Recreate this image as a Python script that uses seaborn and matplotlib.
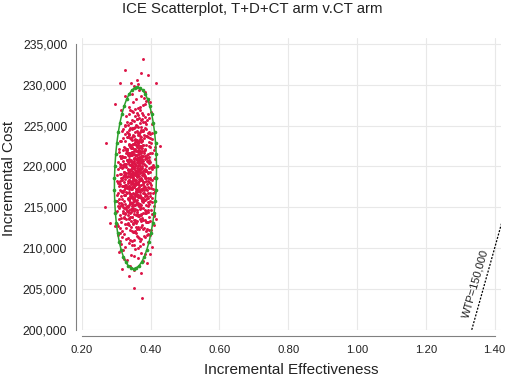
import numpy as np
import pandas as pd
import matplotlib
matplotlib.use("Agg")
import matplotlib.pyplot as plt
import seaborn as sns
from matplotlib.ticker import FuncFormatter

# incremental effectiveness (x) and incremental cost in thousands (y), read band by band
eff = [
    .376, .352,
    .338,
    .316, .352, .373,
    .331, .389, .362,
    .344, .321, .371, .355, .398,
    .403, .337, .362, .310, .351, .379, .345, .368,
    .328, .357, .384, .341, .306, .366, .349, .392, .318, .360, .373,
    .296, .347, .363, .331, .389, .354, .312, .376, .340, .358, .401, .325, .367, .343, .352, .381,
    .282, .416, .355, .338, .371, .322, .349, .384, .307, .362, .343, .396, .329, .358, .374, .351, .315, .366, .337, .389, .346,
    .335, .361, .378, .308, .352, .344, .392, .327, .368, .357, .319, .383, .340, .349, .404, .331, .364, .356, .298, .373, .346, .387, .323, .360, .338, .371,
    .268, .342, .366, .353, .317, .381, .329, .359, .372, .336, .395, .348, .310, .363, .355, .386, .324, .345, .369, .301, .351, .377, .333, .361, .340, .392, .357, .318, .374, .347, .365,
    .350, .327, .371, .358, .339, .384, .314, .362, .346, .397, .333, .368, .355, .321, .377, .343, .360, .305, .352, .389, .337, .365, .348, .374, .326, .357, .341, .380, .316, .363, .353, .335, .370, .344, .408, .359,
    .361, .338, .375, .349, .322, .366, .354, .390, .331, .358, .343, .382, .312, .369, .347, .356, .400, .335, .363, .351, .326, .373, .340, .359, .386, .318, .365, .345, .353, .378, .329, .362, .337, .394, .350, .367, .308, .357, .342,
    .344, .369, .355, .327, .381, .360, .336, .348, .392, .316, .364, .352, .340, .376, .357, .302, .371, .346, .333, .362, .388, .350, .324, .367, .341, .358, .379, .313, .354, .337, .397, .365, .347, .330, .373, .359, .343, .385, .320, .356,
    .363, .339, .377, .352, .325, .368, .357, .345, .391, .333, .360, .349, .383, .317, .371, .355, .341, .366, .398, .328, .358, .347, .374, .336, .362, .310, .353, .387, .343, .369, .350, .322, .380, .356, .334, .365, .346, .404, .359,
    .348, .372, .356, .331, .384, .361, .342, .367, .353, .395, .320, .364, .350, .338, .376, .358, .345, .389, .326, .369, .354, .335, .362, .381, .347, .314, .366, .352, .340, .374, .359, .329, .392, .357, .344, .370, .351,
    .360, .337, .378, .352, .324, .366, .345, .386, .356, .332, .371, .349, .363, .318, .381, .354, .341, .368, .396, .328, .359, .347, .374, .335, .362, .351, .390, .339, .365, .357, .312, .373,
    .270, .427, .355, .340, .376, .362, .331, .369, .349, .385, .358, .343, .371, .322, .364, .352, .394, .337, .367, .356, .346, .379, .329, .360, .351, .373, .342,
    .358, .334, .374, .350, .365, .341, .388, .355, .326, .369, .347, .361, .380, .338, .357, .372, .344, .363, .315, .353, .398, .366,
    .362, .339, .377, .354, .368, .345, .383, .330, .359, .371, .349, .393, .336, .364, .356, .320, .375,
    .357, .372, .343, .366, .386, .351, .361, .333, .378, .347, .369, .395,
    .400, .355, .374, .341, .364, .385, .350, .369, .336,
    .296, .362, .377, .348, .368, .388,
    .358, .371, .345, .381,
    .366, .352,
    .379, .325, .371, .391, .312, .344, .361, .363, .417,
    # second pass over the cloud (wider spread)
    .341,
    .378, .322,
    .352, .309, .385,
    .326, .392, .347, .370, .315,
    .335, .397, .353, .312, .380, .364, .322, .389,
    .318, .371, .395, .336, .359, .304, .386, .348, .329, .378, .410,
    .301, .379, .345, .392, .324, .361, .411, .333, .368, .313, .386, .356, .340, .399,
    .312, .388, .347, .326, .402, .365, .334, .379, .303, .359, .393, .319, .372, .342, .409, .328, .384, .353,
    .321, .391, .337, .375, .306, .358, .403, .330, .384, .346, .315, .369, .397, .325, .362, .339, .411, .380, .309, .354, .388,
    .309, .386, .332, .373, .356, .399, .318, .364, .341, .392, .302, .379, .347, .328, .405, .361, .336, .383, .314, .369, .393, .324, .351, .414,
    .316, .393, .345, .378, .327, .402, .359, .305, .384, .336, .371, .412, .323, .364, .389, .311, .352, .397, .339, .376, .320, .407, .348, .381, .330, .367,
    .323, .398, .341, .385, .306, .369, .414, .334, .376, .318, .391, .357, .329, .403, .348, .312, .381, .365, .337, .409, .301, .372, .345, .395, .326, .388, .361,
    .315, .387, .349, .401, .328, .372, .339, .410, .358, .304, .381, .366, .324, .395, .343, .377, .310, .354, .405, .333, .369, .391, .320, .362, .347, .384,
    .326, .399, .345, .383, .311, .367, .408, .336, .374, .319, .393, .356, .331, .386, .304, .362, .413, .341, .378, .322, .396, .351, .370, .315,
    .313, .392, .338, .376, .357, .404, .327, .369, .346, .385, .308, .363, .398, .334, .381, .320, .352, .411, .342, .373, .330, .389,
    .319, .388, .347, .402, .331, .371, .356, .309, .394, .340, .379, .325, .364, .412, .336, .383, .350, .397,
    .327, .393, .345, .381, .312, .368, .405, .338, .374, .321, .389, .355, .332, .399, .361,
    .334, .386, .318, .372, .403, .346, .361, .327, .395, .352, .379,
    .325, .389, .341, .376, .404, .332, .359, .384,
    .329, .392, .346, .379, .315, .360,
    .336, .383, .355, .398,
    .327, .392,
    .384,
]

cost_k = [
    203.95, 205.14,
    206.62,
    207.47, 207.30, 207.02,
    208.55, 208.21, 208.83,
    209.12, 209.78, 209.45, 209.91, 209.33,
    210.20, 210.64, 210.08, 210.87, 210.41, 210.55, 210.93, 210.27,
    211.15, 211.83, 211.42, 211.06, 211.61, 211.29, 211.95, 211.74, 211.38, 211.52, 211.11,
    212.71, 212.14, 212.55, 212.93, 212.37, 212.06, 212.48, 212.82, 212.25, 212.66, 212.19, 212.91, 212.33, 212.59, 212.02, 212.44,
    213.06, 213.59, 213.21, 213.74, 213.35, 213.88, 213.12, 213.46, 213.63, 213.97, 213.28, 213.81, 213.52, 213.04, 213.69, 213.40, 213.17, 213.92, 213.56, 213.25, 213.77,
    214.05, 214.62, 214.33, 214.91, 214.18, 214.77, 214.44, 214.26, 214.85, 214.11, 214.53, 214.69, 214.37, 214.98, 214.22, 214.58, 214.09, 214.81, 214.47, 214.14, 214.66, 214.29, 214.94, 214.40, 214.73, 214.01,
    215.02, 215.48, 215.13, 215.77, 215.31, 215.92, 215.06, 215.59, 215.24, 215.85, 215.40, 215.67, 215.11, 215.53, 215.96, 215.28, 215.72, 215.17, 215.44, 215.81, 215.35, 215.63, 215.09, 215.88, 215.50, 215.21, 215.75, 215.38, 215.94, 215.57, 215.15,
    216.03, 216.57, 216.29, 216.84, 216.12, 216.66, 216.41, 216.95, 216.22, 216.73, 216.08, 216.50, 216.36, 216.89, 216.17, 216.62, 216.45, 216.79, 216.01, 216.33, 216.91, 216.26, 216.70, 216.14, 216.54, 216.98, 216.38, 216.81, 216.06, 216.47, 216.64, 216.19, 216.87, 216.31, 216.76, 216.52,
    217.04, 217.61, 217.27, 217.88, 217.15, 217.49, 217.73, 217.09, 217.36, 217.95, 217.22, 217.57, 217.81, 217.12, 217.44, 217.68, 217.31, 217.92, 217.06, 217.53, 217.77, 217.19, 217.40, 217.85, 217.25, 217.64, 217.01, 217.47, 217.90, 217.33, 217.71, 217.17, 217.58, 217.42, 217.97, 217.10, 217.66, 217.29, 217.83,
    218.07, 218.52, 218.31, 218.86, 218.14, 218.69, 218.40, 218.95, 218.23, 218.61, 218.02, 218.47, 218.78, 218.35, 218.90, 218.18, 218.56, 218.27, 218.83, 218.11, 218.64, 218.43, 218.98, 218.20, 218.74, 218.37, 218.05, 218.59, 218.92, 218.29, 218.49, 218.81, 218.16, 218.66, 218.33, 218.88, 218.09, 218.55, 218.71, 218.25,
    219.05, 219.58, 219.24, 219.83, 219.13, 219.66, 219.39, 219.92, 219.20, 219.51, 219.76, 219.09, 219.44, 219.87, 219.30, 219.62, 219.02, 219.71, 219.35, 219.96, 219.17, 219.48, 219.80, 219.27, 219.55, 219.11, 219.90, 219.41, 219.68, 219.22, 219.85, 219.33, 219.60, 219.07, 219.74, 219.46, 219.15, 219.94, 219.37,
    220.06, 220.63, 220.28, 220.85, 220.14, 220.50, 220.77, 220.21, 220.94, 220.39, 220.68, 220.03, 220.57, 220.32, 220.89, 220.16, 220.45, 220.72, 220.25, 220.97, 220.10, 220.54, 220.81, 220.36, 220.60, 220.19, 220.92, 220.42, 220.66, 220.08, 220.79, 220.30, 220.52, 220.87, 220.13, 220.47, 220.70,
    221.04, 221.61, 221.26, 221.87, 221.15, 221.49, 221.73, 221.09, 221.38, 221.95, 221.20, 221.56, 221.82, 221.31, 221.67, 221.01, 221.44, 221.90, 221.12, 221.59, 221.35, 221.78, 221.23, 221.52, 221.98, 221.07, 221.41, 221.70, 221.18, 221.85, 221.33, 221.64,
    222.85, 222.55, 222.08, 222.63, 222.31, 222.89, 222.17, 222.46, 222.74, 222.02, 222.58, 222.25, 222.93, 222.39, 222.68, 222.12, 222.51, 222.80, 222.21, 222.96, 222.35, 222.60, 222.05, 222.43, 222.77, 222.28, 222.66,
    223.07, 223.62, 223.29, 223.86, 223.14, 223.51, 223.78, 223.22, 223.93, 223.40, 223.66, 223.03, 223.47, 223.89, 223.18, 223.57, 223.34, 223.81, 223.11, 223.72, 223.44, 223.96,
    224.09, 224.64, 224.31, 224.88, 224.17, 224.53, 224.76, 224.25, 224.95, 224.40, 224.69, 224.04, 224.48, 224.82, 224.21, 224.58, 224.36,
    225.12, 225.68, 225.35, 225.91, 225.23, 225.54, 225.80, 225.06, 225.44, 225.73, 225.29, 225.97,
    226.70, 226.18, 226.55, 226.84, 226.33, 226.07, 226.62, 226.91, 226.41,
    227.60, 227.14, 227.49, 227.83, 227.31, 227.95,
    228.22, 228.67, 228.91, 228.40,
    229.35, 229.81,
    233.13, 231.74, 231.37, 231.13, 230.20, 230.15, 230.52, 230.10, 230.20,
    # second pass over the cloud
    207.85,
    208.40, 208.68,
    209.04, 209.57, 209.26,
    210.12, 210.73, 210.35, 210.90, 210.50,
    211.21, 211.67, 211.03, 211.88, 211.45, 211.33, 211.79, 211.57,
    212.09, 212.62, 212.29, 212.86, 212.41, 212.74, 212.17, 212.97, 212.52, 212.35, 212.80,
    213.01, 213.43, 213.85, 213.19, 213.66, 213.31, 213.94, 213.09, 213.55, 213.72, 213.24, 213.49, 213.83, 213.38,
    214.12, 214.56, 214.83, 214.24, 214.71, 214.03, 214.39, 214.92, 214.50, 214.16, 214.64, 214.30, 214.88, 214.45, 214.07, 214.76, 214.35, 214.59,
    215.04, 215.61, 215.27, 215.83, 215.14, 215.46, 215.71, 215.20, 215.93, 215.36, 215.55, 215.08, 215.79, 215.42, 215.25, 215.67, 215.12, 215.89, 215.51, 215.33, 215.98,
    216.02, 216.47, 216.81, 216.15, 216.59, 216.34, 216.93, 216.24, 216.68, 216.10, 216.52, 216.77, 216.39, 216.87, 216.20, 216.63, 216.05, 216.43, 216.96, 216.28, 216.71, 216.56, 216.13, 216.85,
    217.03, 217.55, 217.21, 217.84, 217.37, 217.69, 217.11, 217.92, 217.46, 217.28, 217.75, 217.06, 217.60, 217.33, 217.89, 217.18, 217.51, 217.96, 217.40, 217.14, 217.64, 217.25, 217.80, 217.08, 217.43, 217.71,
    218.04, 218.61, 218.26, 218.83, 218.13, 218.48, 218.72, 218.19, 218.94, 218.37, 218.56, 218.09, 218.79, 218.31, 218.67, 218.22, 218.89, 218.42, 218.15, 218.58, 218.97, 218.34, 218.76, 218.06, 218.51, 218.28, 218.86,
    219.06, 219.53, 219.29, 219.88, 219.14, 219.67, 219.41, 219.95, 219.21, 219.74, 219.02, 219.58, 219.35, 219.83, 219.11, 219.47, 219.92, 219.26, 219.63, 219.17, 219.79, 219.38, 219.99, 219.50, 219.09, 219.70,
    220.04, 220.58, 220.23, 220.86, 220.35, 220.71, 220.12, 220.95, 220.44, 220.18, 220.63, 220.29, 220.82, 220.07, 220.52, 220.39, 220.91, 220.15, 220.67, 220.26, 220.78, 220.48, 220.02, 220.98,
    221.03, 221.57, 221.22, 221.84, 221.39, 221.69, 221.13, 221.93, 221.46, 221.28, 221.76, 221.09, 221.61, 221.35, 221.88, 221.18, 221.52, 221.96, 221.42, 221.25, 221.72, 221.06,
    222.04, 222.61, 222.27, 222.83, 222.15, 222.48, 222.72, 222.09, 222.94, 222.36, 222.57, 222.21, 222.88, 222.42, 222.66, 222.12, 222.79, 222.33,
    223.05, 223.54, 223.26, 223.82, 223.16, 223.69, 223.38, 223.91, 223.11, 223.47, 223.75, 223.31, 223.60, 223.97, 223.21,
    224.07, 224.55, 224.28, 224.84, 224.14, 224.66, 224.39, 224.92, 224.22, 224.73, 224.47,
    225.09, 225.62, 225.31, 225.85, 225.18, 225.49, 225.76, 225.39,
    226.12, 226.47, 226.79, 226.25, 226.95, 226.58,
    227.22, 227.68, 227.05, 227.89,
    228.57, 228.14,
    229.12,
]

# confidence ellipse: centre, half-axes, x-drift from bottom to top
ell_center = (0.356, 218600)
ell_half = (0.061, 11100)
ell_tilt = 0.0055

wtp = 150000
x_ticks = [0.2, 0.4, 0.6, 0.8, 1.0, 1.2, 1.4]
y_ticks = [200000, 205000, 210000, 215000, 220000, 225000, 230000, 235000]

df = pd.DataFrame({"eff": eff, "cost": np.array(cost_k) * 1000})

sns.set_style("white")
plt.rcParams["font.family"] = ["Liberation Sans", "DejaVu Sans"]

fig = plt.figure(figsize=(5.05, 3.76), dpi=100)
ax = fig.add_axes([0.162, 0.122, 0.831, 0.777])

ax.grid(True, color="#e8e8e8", linewidth=0.8)
ax.set_axisbelow(True)

sns.scatterplot(data=df, x="eff", y="cost", color="#dc1446", s=4.5, linewidth=0, ax=ax, zorder=3)

t = np.linspace(0, 2 * np.pi, 49)
ey = ell_center[1] + ell_half[1] * np.sin(t)
ex = ell_center[0] + ell_half[0] * np.cos(t) + ell_tilt * np.sin(t)
ax.plot(ex, ey, color="#2ca02c", linewidth=1.1, marker="o", markersize=1.6, zorder=4)

# willingness-to-pay line
xs = np.array([0.2, 1.45])
ax.plot(xs, wtp * xs, color="black", linewidth=0.9, linestyle=(0, (1.6, 1.2)), zorder=4)
ax.annotate("WTP=150,000", xy=(1.37, wtp * 1.37), xytext=(-6.5, 1), textcoords="offset points",
            rotation=74, rotation_mode="anchor", ha="center", va="center", fontsize=8, color="#222222")

ax.set_xlim(0.2, 1.42)
ax.set_ylim(200000, 235700)
ax.set_xticks(x_ticks)
ax.set_yticks(y_ticks)
ax.xaxis.set_major_formatter(FuncFormatter(lambda v, p: f"{v:.2f}"))
ax.yaxis.set_major_formatter(FuncFormatter(lambda v, p: f"{v:,.0f}"))
ax.tick_params(axis="both", length=4, width=0.8, color="#808080", labelcolor="#222222", pad=2)
ax.tick_params(axis="y", labelsize=8.7)
ax.tick_params(axis="x", labelsize=8.2)

sns.despine(ax=ax, offset=4.5, trim=True)
for s in ["left", "bottom"]:
    ax.spines[s].set_color("#808080")
    ax.spines[s].set_linewidth(0.8)

ax.set_xlabel("Incremental Effectiveness", fontsize=11, color="#222222", labelpad=6)
ax.set_ylabel("Incremental Cost", fontsize=11, color="#222222")
ax.yaxis.set_label_coords(-0.157, 0.52)
fig.text(0.5, 0.975, "ICE Scatterplot, T+D+CT arm v.CT arm", fontsize=10.8, color="#222222",
         ha="center", va="center")

fig.savefig("out.png", dpi=100)
